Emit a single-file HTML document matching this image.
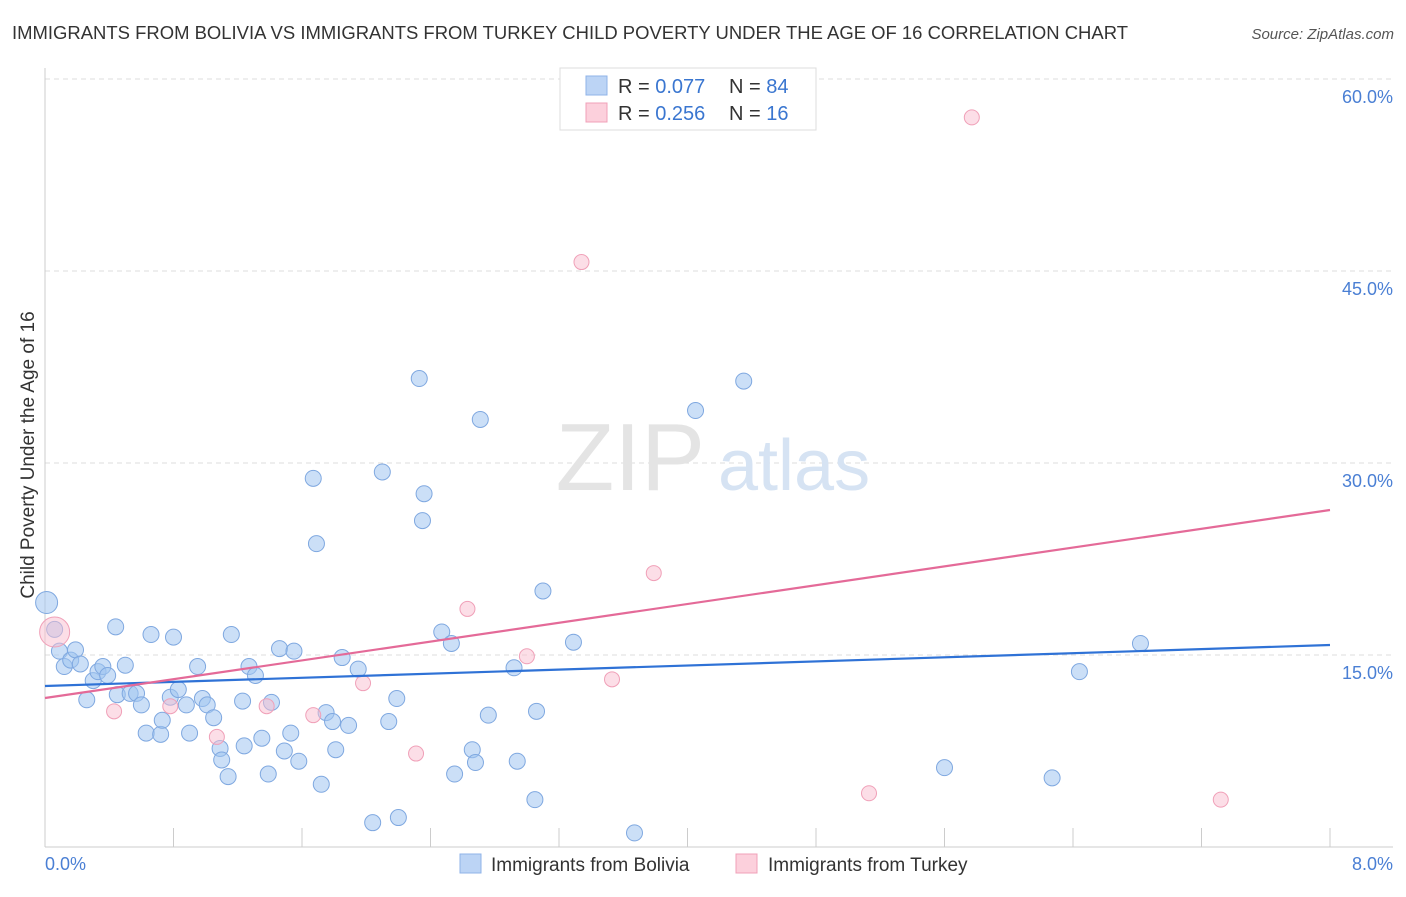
<!DOCTYPE html>
<html><head><meta charset="utf-8"><style>
body{margin:0;background:#fff;font-family:"Liberation Sans",sans-serif}
svg text{font-family:"Liberation Sans",sans-serif}
</style></head><body>
<svg width="1406" height="892" viewBox="0 0 1406 892">
<text x="12" y="39" font-size="18.5" fill="#333" textLength="1116" lengthAdjust="spacingAndGlyphs">IMMIGRANTS FROM BOLIVIA VS IMMIGRANTS FROM TURKEY CHILD POVERTY UNDER THE AGE OF 16 CORRELATION CHART</text>
<text x="1394" y="39" font-size="15" fill="#555" font-style="italic" text-anchor="end">Source: ZipAtlas.com</text>
<g id="grid"></g>
<text x="705" y="490" font-size="96" fill="#e4e4e4" text-anchor="end" font-family="Liberation Serif">ZIP</text>
<text x="718" y="490" font-size="72" fill="#d6e3f3">atlas</text>
<g id="pts"></g>
<g id="lines"></g>
<text transform="translate(34,455) rotate(-90)" font-size="19" fill="#333" text-anchor="middle">Child Poverty Under the Age of 16</text>
<text x="45" y="870" font-size="18" fill="#4a7fd4">0.0%</text>
<text x="1393" y="870" font-size="18" fill="#4a7fd4" text-anchor="end">8.0%</text>
<g>
<rect x="560" y="68" width="256" height="62" fill="#fff" stroke="#ddd"/>
<rect x="586" y="76" width="21" height="19" fill="#bcd4f5" stroke="#8fb3e8"/>
<rect x="586" y="103" width="21" height="19" fill="#fcd0dc" stroke="#f0a0b8"/>
<text x="618" y="93" font-size="20" fill="#333">R = <tspan fill="#3a76d0">0.077</tspan></text>
<text x="729" y="93" font-size="20" fill="#333">N = <tspan fill="#3a76d0">84</tspan></text>
<text x="618" y="120" font-size="20" fill="#333">R = <tspan fill="#3a76d0">0.256</tspan></text>
<text x="729" y="120" font-size="20" fill="#333">N = <tspan fill="#3a76d0"> 16</tspan></text>
</g>
<g>
<rect x="460" y="854" width="21" height="19" fill="#bcd4f5" stroke="#8fb3e8"/>
<text x="491" y="871" font-size="19" fill="#333">Immigrants from Bolivia</text>
<rect x="736" y="854" width="21" height="19" fill="#fcd0dc" stroke="#f0a0b8"/>
<text x="768" y="871" font-size="19" fill="#333">Immigrants from Turkey</text>
</g>
</svg>
<script>
const yTicks=[15,30,45,60];
const yTickLabels=["15.0%","30.0%","45.0%","60.0%"];
const xTicks=[0,0.8,1.6,2.4,3.2,4.0,4.8,5.6,6.4,7.2,8.0];
const boliviaX=[0.01,0.06,0.09,0.12,0.16,0.19,0.22,0.26,0.30,0.33,0.36,0.39,0.44,0.45,0.50,0.53,0.57,0.60,0.63,0.66,0.72,0.73,0.78,0.80,0.83,0.88,0.90,0.95,0.98,1.01,1.05,1.09,1.10,1.14,1.16,1.23,1.24,1.27,1.31,1.35,1.39,1.41,1.46,1.49,1.53,1.55,1.58,1.67,1.69,1.72,1.75,1.79,1.81,1.85,1.89,1.95,2.04,2.10,2.14,2.19,2.20,2.33,2.36,2.35,2.47,2.53,2.55,2.66,2.68,2.71,2.76,2.92,2.94,3.05,3.06,3.10,3.29,3.67,4.05,4.35,5.60,6.27,6.44,6.82];
const boliviaY=[19.1,17.0,15.3,14.1,14.6,15.4,14.3,11.5,13.0,13.7,14.1,13.4,17.2,11.9,14.2,12.0,12.0,11.1,8.9,16.6,8.8,9.9,11.7,16.4,12.3,11.1,8.9,14.1,11.6,11.1,10.1,7.7,6.8,5.5,16.6,11.4,7.9,14.1,13.4,8.5,5.7,11.3,15.5,7.5,8.9,15.3,6.7,28.8,23.7,4.9,10.5,9.8,7.6,14.8,9.5,13.9,1.9,29.3,9.8,11.6,2.3,36.6,27.6,25.5,16.8,15.9,5.7,7.6,6.6,33.4,10.3,14.0,6.7,3.7,10.6,20.0,16.0,1.1,34.1,36.4,6.2,5.4,13.7,15.9];
const turkeyX=[0.06,0.43,0.78,1.07,1.38,1.67,1.98,2.31,2.63,3.00,3.34,3.53,3.79,5.13,5.77,7.32];
const turkeyY=[16.8,10.6,11.0,8.6,11.0,10.3,12.8,7.3,18.6,14.9,45.7,13.1,21.4,4.2,57.0,3.7];
const trendBoliviaY=[12.58,15.78];
const trendTurkeyY=[11.64,26.33];
const NS="http://www.w3.org/2000/svg";
const X=v=>45+v/8*1285, Y=v=>847-v*12.8;
function mk(t,a,p){const e=document.createElementNS(NS,t);for(const k in a)e.setAttribute(k,a[k]);p.appendChild(e);return e;}
const grid=document.getElementById('grid');
yTicks.forEach((t,i)=>{
 const l=mk('line',{x1:45,x2:1393,y1:Y(t),y2:Y(t),stroke:'#ddd','stroke-dasharray':'5,4'},grid);
 
 
 const tx=mk('text',{x:1393,y:Y(t)+24,'font-size':18,fill:'#4a7fd4','text-anchor':'end'},grid);
 tx.textContent=yTickLabels[i];
 
 
});
const ax=mk('line',{x1:45,x2:45,y1:68,y2:847,stroke:'#ccc'},grid);


const bx=mk('line',{x1:45,x2:1393,y1:847,y2:847,stroke:'#ccc'},grid);


xTicks.forEach(t=>{
 const l=mk('line',{x1:X(t),x2:X(t),y1:828,y2:847,stroke:'#ccc'},grid);
 
 
});
const pts=document.getElementById('pts');
boliviaX.forEach((x,i)=>{
 const r=i==0?11:8;
 const c=mk('circle',{cx:X(x),cy:Y(boliviaY[i]),r:r,fill:'rgba(160,196,240,0.55)',stroke:'#7fa8e0','stroke-width':1},pts);
 
 
});
turkeyX.forEach((x,i)=>{
 const r=i==0?15:7.5;
 const c=mk('circle',{cx:X(x),cy:Y(turkeyY[i]),r:r,fill:'rgba(250,190,208,0.5)',stroke:'#f0a0b8','stroke-width':1},pts);
 
 
});
const lines=document.getElementById('lines');
const lb=mk('line',{x1:X(0),x2:X(8),y1:Y(trendBoliviaY[0]),y2:Y(trendBoliviaY[1]),stroke:'#2f72d6','stroke-width':2.2},lines);


const lt=mk('line',{x1:X(0),x2:X(8),y1:Y(trendTurkeyY[0]),y2:Y(trendTurkeyY[1]),stroke:'#e46a98','stroke-width':2.2},lines);


</script>
</body></html>
